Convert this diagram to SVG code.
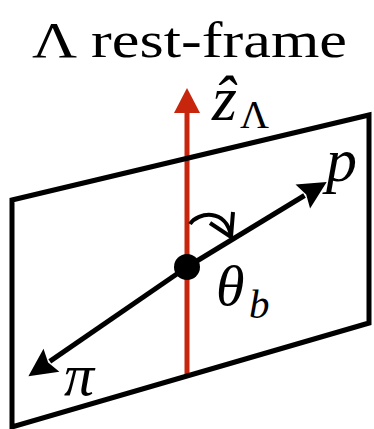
<svg xmlns="http://www.w3.org/2000/svg" width="374" height="429" viewBox="0 0 374 429">
<style>
.edge{fill:none;stroke:#000;stroke-width:5}
.arr{fill:none;stroke:#000;stroke-width:5}
.thin{fill:none;stroke:#000;stroke-width:4}
.lbl{font-family:"Liberation Serif","Times New Roman",serif;fill:#000}
.it{font-style:italic}
</style>
<defs>
<marker id="ah" markerUnits="userSpaceOnUse" markerWidth="30" markerHeight="30" refX="0" refY="14" orient="auto" viewBox="0 0 30 30" overflow="visible">
<path d="M-2,0 L26,14 L-2,28 L2,14 z" fill="#000"/>
</marker>
<marker id="ahr" markerUnits="userSpaceOnUse" markerWidth="27" markerHeight="27" refX="0" refY="13" orient="auto" viewBox="0 0 27 27" overflow="visible">
<path d="M0,0 L25,13 L0,26 z" fill="#c8250d"/>
</marker>
</defs>
<rect width="374" height="429" fill="#fff"/>
<g id="title"><text class="lbl" x="32" y="57" font-size="51" textLength="315" lengthAdjust="spacingAndGlyphs">Λ rest-frame</text></g>
<g id="z-axis">
<line x1="187" y1="375" x2="187" y2="113" stroke="#c8250d" stroke-width="5" marker-end="url(#ahr)"/>
<text class="lbl it" x="212" y="120" font-size="64">ẑ</text>
<text class="lbl" x="240" y="128" font-size="40">Λ</text>
</g>
<g id="plane"><polygon class="edge" points="12,200 369,115 369,323 12,427"/></g>
<g id="connectors">
<line class="arr" x1="187" y1="267" x2="304.5" y2="195.5" marker-end="url(#ah)"/>
<line class="arr" x1="187" y1="267" x2="49.8" y2="361.4" marker-end="url(#ah)"/>
<path class="thin" d="M190,224 C198,212 226,208 231,236"/>
<path class="thin" d="M210,223 L231,237 L233,212"/>
</g>
<g id="vertex"><circle cx="187" cy="267" r="13" fill="#000"/></g>
<g id="labels">
<text class="lbl it" x="326" y="181" font-size="62">p</text>
<text class="lbl it" x="216" y="305" font-size="58">θ</text>
<text class="lbl it" x="249" y="318" font-size="41">b</text>
<text class="lbl it" x="64" y="395" font-size="60">π</text>
</g>
</svg>
